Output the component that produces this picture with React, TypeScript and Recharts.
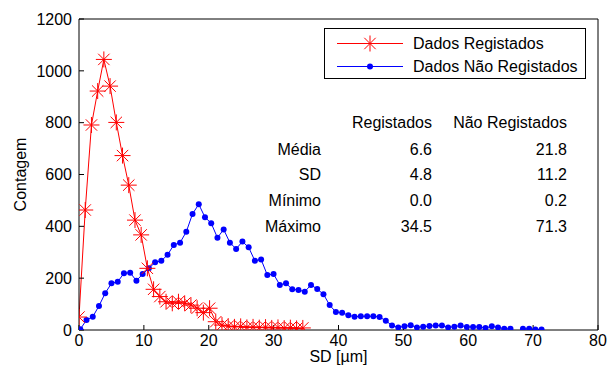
import React from "react";
import { LineChart, Line, XAxis, YAxis, Label } from "recharts";

// bins of the two histograms (SD in µm) and their counts
const regX = [0, 0.96, 1.92, 2.88, 3.83, 4.79, 5.75, 6.71, 7.67, 8.63, 9.58, 10.54, 11.5, 12.46, 13.42, 14.38, 15.33, 16.29, 17.25, 18.21, 19.17, 20.13, 21.08, 22.04, 23.0, 23.96, 24.92, 25.88, 26.83, 27.79, 28.75, 29.71, 30.67, 31.63, 32.58, 33.54, 34.5];
const regCount = [50, 463, 791, 922, 1044, 941, 801, 673, 559, 424, 367, 238, 157, 129, 109, 103, 109, 103, 96, 84, 67, 84, 32, 19, 15, 12, 14, 10, 12, 9, 11, 8, 10, 7, 9, 6, 8];

const naoX = [0.2, 1.16, 2.12, 3.08, 4.04, 5.0, 5.97, 6.93, 7.89, 8.85, 9.81, 10.77, 11.73, 12.69, 13.65, 14.61, 15.58, 16.54, 17.5, 18.46, 19.42, 20.38, 21.34, 22.3, 23.26, 24.22, 25.19, 26.15, 27.11, 28.07, 29.03, 29.99, 30.95, 31.91, 32.87, 33.83, 34.8, 35.76, 36.72, 37.68, 38.64, 39.6, 40.56, 41.52, 42.48, 43.44, 44.41, 45.37, 46.33, 47.29, 48.25, 49.21, 50.17, 51.13, 52.09, 53.05, 54.02, 54.98, 55.94, 56.9, 57.86, 58.82, 59.78, 60.74, 61.7, 62.66, 63.63, 64.59, 65.55, 66.51, 67.47, 68.43, 69.39, 70.35, 71.3];
const naoCount = [3, 39, 51, 93, 142, 180, 186, 219, 221, 190, 216, 238, 261, 267, 290, 328, 337, 379, 448, 485, 435, 412, 356, 388, 337, 313, 341, 319, 267, 272, 212, 216, 174, 180, 157, 154, 148, 174, 158, 138, 96, 69, 67, 57, 51, 53, 53, 53, 50, 36, 17, 10, 14, 18, 10, 13, 15, 17, 17, 10, 13, 17, 12, 12, 12, 8, 14, 10, 5, 5, null, 5, 5, 2, 2];

const xTicks = [0, 10, 20, 30, 40, 50, 60, 70, 80];
const yTicks = [0, 200, 400, 600, 800, 1000, 1200];

const seriesNames = ["Dados Registados", "Dados Não Registados"];
const statCols = ["Registados", "Não Registados"];
const statRows = ["Média", "SD", "Mínimo", "Máximo"];
const statReg = ["6.6", "4.8", "0.0", "34.5"];
const statNao = ["21.8", "11.2", "0.2", "71.3"];

const FONT = '"Liberation Sans", Arial, Helvetica, sans-serif';
const RED = "#ff0000";
const BLUE = "#0000ff";

const regData = regX.map((x, i) => ({ x, y: regCount[i] }));
const naoData = naoX.map((x, i) => ({ x, y: naoCount[i] }));

function StarDot(props: any) {
  const { cx, cy, index } = props;
  if (cx == null || cy == null || isNaN(cy)) return <g key={`s-${index}`} />;
  const r = 8;
  const d = 5.7;
  return (
    <g key={`s-${index}`} stroke={RED} strokeWidth={1}>
      <line x1={cx - r} y1={cy} x2={cx + r} y2={cy} />
      <line x1={cx} y1={cy - r} x2={cx} y2={cy + r} />
      <line x1={cx - d} y1={cy - d} x2={cx + d} y2={cy + d} />
      <line x1={cx - d} y1={cy + d} x2={cx + d} y2={cy - d} />
    </g>
  );
}

function CircleDot(props: any) {
  const { cx, cy, index } = props;
  if (cx == null || cy == null || isNaN(cy)) return <g key={`c-${index}`} />;
  return <circle key={`c-${index}`} cx={cx} cy={cy} r={3} fill={BLUE} stroke="none" />;
}

const tickStyle = { fill: "#000", fontSize: 16, fontFamily: FONT };

export default function App() {
  return (
    <div style={{ position: "relative", width: 609, height: 379, fontFamily: FONT, background: "#fff" }}>
      <style>{"body{margin:0;background:#fff}"}</style>
      <LineChart width={609} height={379} margin={{ top: 18, right: 10, left: 0, bottom: 0 }}>
        <XAxis
          dataKey="x"
          type="number"
          domain={[0, 80]}
          ticks={xTicks}
          allowDataOverflow
          height={49}
          tickSize={-5}
          tickMargin={10}
          stroke="#000"
          tick={tickStyle}
        >
          <Label value="SD [µm]" position="insideBottom" offset={17} style={{ fill: "#000", fontSize: 16, fontFamily: FONT }} />
        </XAxis>
        <XAxis
          xAxisId="top"
          orientation="top"
          dataKey="x"
          type="number"
          domain={[0, 80]}
          ticks={xTicks}
          allowDataOverflow
          height={1}
          tickSize={-5}
          tick={false}
          stroke="#000"
        />
        <YAxis
          type="number"
          domain={[0, 1200]}
          ticks={yTicks}
          allowDataOverflow
          width={79}
          tickSize={-5}
          tickMargin={12}
          stroke="#000"
          tick={tickStyle}
        >
          <Label
            value="Contagem"
            angle={-90}
            position="insideLeft"
            offset={20}
            style={{ fill: "#000", fontSize: 16, fontFamily: FONT, textAnchor: "middle" }}
          />
        </YAxis>
        <YAxis
          yAxisId="right"
          orientation="right"
          type="number"
          domain={[0, 1200]}
          ticks={yTicks}
          allowDataOverflow
          width={1}
          tickSize={-5}
          tick={false}
          stroke="#000"
        />
        {/* invisible series so the framing axes (top / right) get drawn */}
        <Line
          xAxisId="top"
          yAxisId="right"
          data={naoData}
          dataKey="y"
          stroke="none"
          dot={false}
          activeDot={false}
          legendType="none"
          isAnimationActive={false}
        />
        <Line
          data={naoData}
          dataKey="y"
          name={seriesNames[1]}
          stroke={BLUE}
          strokeWidth={1}
          dot={CircleDot}
          activeDot={false}
          isAnimationActive={false}
        />
        <Line
          data={regData}
          dataKey="y"
          name={seriesNames[0]}
          stroke={RED}
          strokeWidth={1}
          dot={StarDot}
          activeDot={false}
          isAnimationActive={false}
        />
      </LineChart>

      {/* legend + stats text, laid over the plot */}
      <svg width={609} height={379} style={{ position: "absolute", left: 0, top: 0, pointerEvents: "none" }}>
        <rect x={324.5} y={28.5} width={261} height={50} fill="#fff" stroke="#000" strokeWidth={1} />
        <line x1={337} y1={43.5} x2={403} y2={43.5} stroke={RED} />
        <StarDot cx={370} cy={43.5} index={-1} />
        <text x={413} y={49} fontSize={16} fontFamily={FONT} fill="#000">{seriesNames[0]}</text>
        <line x1={337} y1={66.5} x2={403} y2={66.5} stroke={BLUE} />
        <circle cx={370} cy={66.5} r={3} fill={BLUE} />
        <text x={413} y={72} fontSize={16} fontFamily={FONT} fill="#000">{seriesNames[1]}</text>

        <g fontSize={16} fontFamily={FONT} fill="#000" textAnchor="end">
          <text x={432} y={127.5}>{statCols[0]}</text>
          <text x={567} y={127.5}>{statCols[1]}</text>
          {statRows.map((r, i) => (
            <g key={r}>
              <text x={321} y={154.5 + i * 25.7}>{r}</text>
              <text x={432} y={154.5 + i * 25.7}>{statReg[i]}</text>
              <text x={567} y={154.5 + i * 25.7}>{statNao[i]}</text>
            </g>
          ))}
        </g>
      </svg>
    </div>
  );
}
